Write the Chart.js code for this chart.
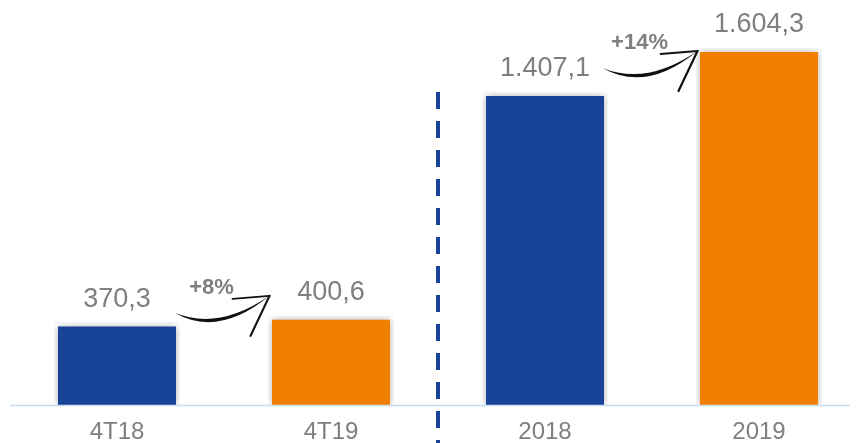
<!DOCTYPE html>
<html>
<head>
<meta charset="utf-8">
<script src="https://cdn.jsdelivr.net/npm/chart.js@4.4.1/dist/chart.umd.min.js"></script>
<style>
  html, body { margin: 0; padding: 0; background: #fff; overflow: hidden; }
  #wrap { width: 866px; height: 443px; overflow: hidden; }
</style>
</head>
<body>
<div id="wrap"><canvas id="chart" width="866" height="459"></canvas></div>
<script>
// data
const categories = ['4T18', '4T19', '2018', '2019'];
const values = [370.3, 400.6, 1407.1, 1604.3];
const barColors = ['#184396', '#f07f00', '#184396', '#f07f00'];
const changeLabels = ['+8%', '+14%'];
const changePairs = [[0, 1], [2, 3]];

const BLUE = '#184396';
const GREY = '#7f7f7f';
const FONT = "'Liberation Sans', Arial, sans-serif";

// 1604.3 -> "1.604,3"
function formatValue(v) {
  const parts = v.toFixed(1).split('.');
  const intPart = parts[0].replace(/\B(?=(\d{3})+(?!\d))/g, '.');
  return intPart + ',' + parts[1];
}

// hand-drawn style swoosh arrow, tip at (tx, ty)
function drawArrow(ctx, tx, ty, label) {
  ctx.save();
  ctx.translate(tx, ty);
  ctx.fillStyle = '#111';
  ctx.beginPath();
  ctx.moveTo(-95, 17);
  ctx.quadraticCurveTo(-51, 42, 0, 0);
  ctx.quadraticCurveTo(-51, 35, -95, 17);
  ctx.fill();

  ctx.strokeStyle = '#111';
  ctx.lineCap = 'round';
  ctx.lineWidth = 1.8;
  ctx.beginPath();
  ctx.moveTo(0, 0);
  ctx.lineTo(-37, 3);
  ctx.stroke();
  ctx.lineWidth = 2.2;
  ctx.beginPath();
  ctx.moveTo(0, 0);
  ctx.lineTo(-19, 40);
  ctx.stroke();

  ctx.fillStyle = GREY;
  ctx.font = 'bold 22px ' + FONT;
  ctx.textAlign = 'center';
  ctx.textBaseline = 'alphabetic';
  ctx.fillText(label, -58, -2);
  ctx.restore();
}

// tip offsets of each arrow relative to the second bar's top
const arrowOffsets = [-20, 3];

const decorations = {
  id: 'decorations',
  beforeDatasetsDraw(chart) {
    const ctx = chart.ctx;
    ctx.save();
    ctx.shadowColor = 'rgba(0,0,0,0.3)';
    ctx.shadowBlur = 8;
  },
  afterDatasetsDraw(chart) {
    const ctx = chart.ctx;
    ctx.restore();
    const x = chart.scales.x;
    const y = chart.scales.y;
    const area = chart.chartArea;

    // baseline
    ctx.save();
    ctx.strokeStyle = '#c6dcf2';
    ctx.lineWidth = 1.5;
    ctx.beginPath();
    ctx.moveTo(area.left, area.bottom + 0.5);
    ctx.lineTo(850, area.bottom + 0.5);
    ctx.stroke();

    // dashed separator between quarter and year
    const sepX = (x.getPixelForValue(1) + x.getPixelForValue(2)) / 2;
    ctx.strokeStyle = BLUE;
    ctx.lineWidth = 4;
    ctx.setLineDash([17, 12]);
    ctx.beginPath();
    ctx.moveTo(sepX, y.getPixelForValue(values[2]));
    ctx.lineTo(sepX, chart.height);
    ctx.stroke();
    ctx.setLineDash([]);

    // value labels
    ctx.fillStyle = GREY;
    ctx.font = '27px ' + FONT;
    ctx.textAlign = 'center';
    ctx.textBaseline = 'alphabetic';
    values.forEach((v, i) => {
      ctx.fillText(formatValue(v), x.getPixelForValue(i), y.getPixelForValue(v) - 16);
    });
    ctx.restore();

    // growth arrows
    changePairs.forEach((pair, i) => {
      const mid = (x.getPixelForValue(pair[0]) + x.getPixelForValue(pair[1])) / 2;
      const tipY = y.getPixelForValue(values[pair[1]]) + arrowOffsets[i];
      drawArrow(ctx, mid + 45.5, tipY, changeLabels[i]);
    });
  }
};

new Chart(document.getElementById('chart'), {
  type: 'bar',
  data: {
    labels: categories,
    datasets: [{
      data: values,
      backgroundColor: barColors,
      borderColor: '#ffffff',
      borderWidth: 4,
      borderSkipped: 'bottom',
      barPercentage: 0.589,
      categoryPercentage: 1
    }]
  },
  options: {
    responsive: false,
    animation: false,
    layout: { padding: { left: 10, top: 0, right: 0, bottom: 0 } },
    plugins: {
      legend: { display: false },
      tooltip: { enabled: false }
    },
    scales: {
      x: {
        grid: { display: false, drawTicks: false },
        border: { display: false },
        ticks: {
          color: GREY,
          padding: 15,
          font: { family: FONT, size: 24, lineHeight: 1 }
        }
      },
      y: {
        display: false,
        min: 0,
        max: 1820
      }
    }
  },
  plugins: [decorations]
});
</script>
</body>
</html>
